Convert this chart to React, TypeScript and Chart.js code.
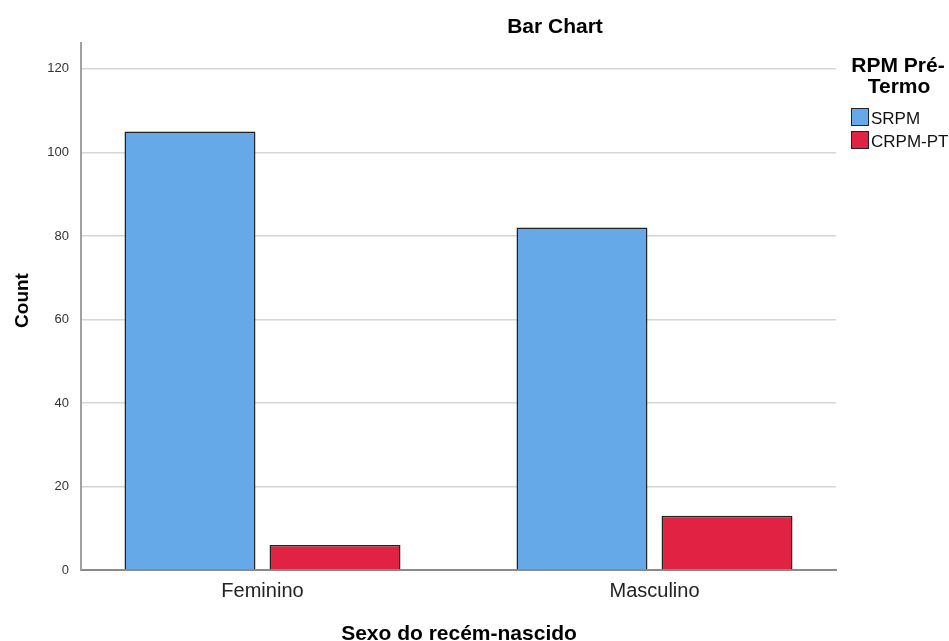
import React, { useEffect, useRef } from "react";
import { Chart, registerables } from "chart.js";

Chart.register(...registerables);

const categories = ["Feminino", "Masculino"];
const seriesNames = ["SRPM", "CRPM-PT"];
const srpm = [105, 82];
const crpmPt = [6, 13];
const yTicks = [0, 20, 40, 60, 80, 100, 120];

const COLORS = ["#65a9e9", "#e12243"];
const FONT = "'Liberation Sans', Arial, sans-serif";

const textPlugin = {
  id: "textPlugin",
  afterDraw(chart: any) {
    const ctx = chart.ctx;
    const area = chart.chartArea;
    ctx.save();
    ctx.fillStyle = "#000";
    ctx.textAlign = "center";
    ctx.textBaseline = "alphabetic";
    ctx.font = `bold 21px ${FONT}`;
    ctx.fillText("Bar Chart", 555, 33);
    ctx.fillText("Sexo do recém-nascido", 459, 640);
    ctx.save();
    ctx.translate(28, (area.top + area.bottom) / 2 - 6);
    ctx.rotate(-Math.PI / 2);
    ctx.font = `bold 19px ${FONT}`;
    ctx.fillText("Count", 0, 0);
    ctx.restore();
    // legend
    ctx.fillText("RPM Pré-", 898, 72);
    ctx.fillText("Termo", 899, 93);
    ctx.textAlign = "left";
    ctx.font = `17px ${FONT}`;
    chart.data.datasets.forEach((ds: any, i: number) => {
      const y = 108 + i * 23;
      ctx.fillStyle = ds.backgroundColor;
      ctx.fillRect(851, y, 17, 17);
      ctx.strokeStyle = "#222";
      ctx.lineWidth = 1;
      ctx.strokeRect(851.5, y + 0.5, 17, 17);
      ctx.fillStyle = "#111";
      ctx.fillText(ds.label, 871, y + 16);
    });
    ctx.restore();
  },
};

export default function App() {
  const ref = useRef<HTMLCanvasElement>(null);
  useEffect(() => {
    if (!ref.current) return;
    const chart = new Chart(ref.current, {
      type: "bar",
      data: {
        datasets: [srpm, crpmPt].map((vals, i) => ({
          label: seriesNames[i],
          data: vals.map((v, j) => ({ x: j, y: v })),
          backgroundColor: COLORS[i],
          borderColor: "#222",
          borderWidth: 1.5,
          borderSkipped: "bottom",
          categoryPercentage: 0.74,
          barPercentage: 0.903,
        })),
      },
      plugins: [textPlugin],
      options: {
        animation: false,
        responsive: false,
        layout: { padding: { left: 0, right: 113, top: 43, bottom: 0 } },
        plugins: {
          legend: { display: false },
          title: { display: false },
          tooltip: { enabled: false },
        },
        scales: {
          x: {
            type: "linear",
            min: -0.463,
            max: 1.463,
            offset: false,
            grid: { display: false, drawTicks: false },
            border: { display: true, color: "#8a8a8a", width: 2 },
            afterFit: (s: any) => {
              s.height = 71;
            },
            ticks: {
              stepSize: 1,
              includeBounds: false,
              autoSkip: false,
              maxRotation: 0,
              padding: 9,
              color: "#222",
              font: { family: FONT, size: 20 },
              callback: (v: any) => categories[v as number] ?? "",
            },
          },
          y: {
            min: 0,
            max: 126.2,
            afterFit: (s: any) => {
              s.width = 81;
            },
            afterBuildTicks: (s: any) => {
              s.ticks = yTicks.map((v) => ({ value: v }));
            },
            grid: { color: "#d6d6d6", lineWidth: 1.5, drawTicks: false },
            border: { display: true, color: "#a0a0a0", width: 2 },
            ticks: {
              padding: 12,
              color: "#333",
              font: { family: FONT, size: 13 },
            },
          },
        },
      } as any,
    });
    return () => chart.destroy();
  }, []);
  return (
    <div style={{ position: "fixed", left: 0, top: 0, width: 949, height: 641, background: "#fff" }}>
      <canvas ref={ref} width={949} height={641} style={{ width: 949, height: 641 }} />
    </div>
  );
}
